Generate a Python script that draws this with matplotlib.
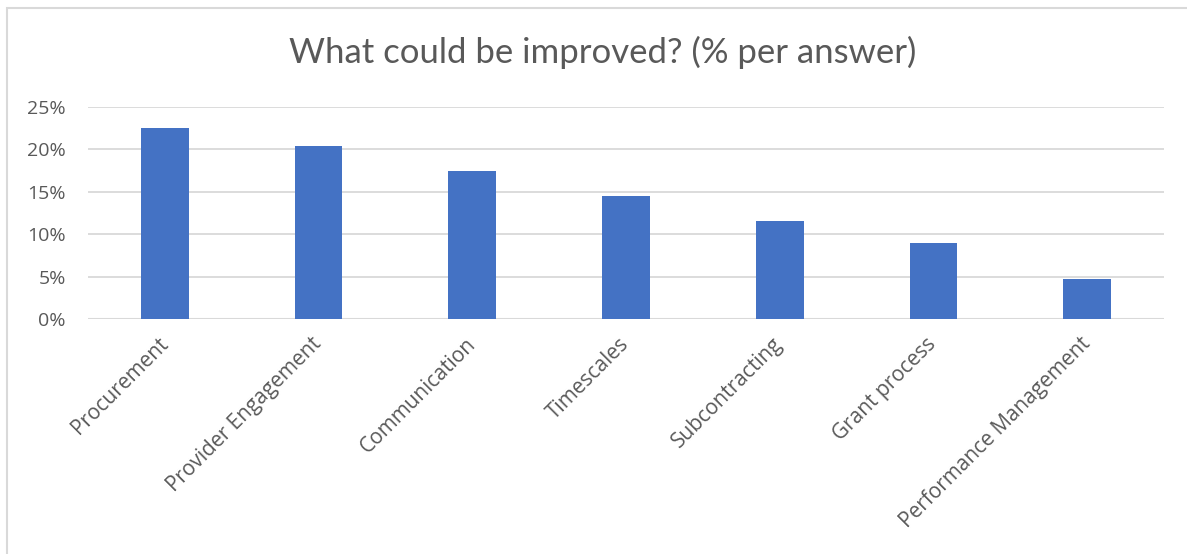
import matplotlib.pyplot as plt
from matplotlib.patches import Rectangle
from matplotlib.ticker import PercentFormatter, MultipleLocator

categories = ["Procurement", "Provider Engagement", "Communication", "Timescales",
              "Subcontracting", "Grant process", "Performance Management"]
values = [0.2256, 0.2039, 0.1744, 0.1449, 0.1150, 0.0894, 0.0469]
title = "What could be improved? (% per answer)"

text_color = "#595959"
grid_color = "#D9D9D9"
bar_color = "#4472C4"

plt.rcParams['font.family'] = ['Open Sans', 'DejaVu Sans']

fig = plt.figure(figsize=(11.87, 5.54), dpi=100)
ax = fig.add_axes([88 / 1187, 1 - 319 / 554, (1164 - 88) / 1187, (319 - 107) / 554])

x = range(len(categories))
ax.bar(x, values, width=0.31, color=bar_color, zorder=3)

ax.set_xlim(-0.5, len(categories) - 0.5)
ax.set_ylim(0, 0.25)
ax.yaxis.set_major_locator(MultipleLocator(0.05))
ax.yaxis.set_major_formatter(PercentFormatter(1.0, decimals=0))
ax.grid(axis='y', color=grid_color, linewidth=1.3, zorder=0)
for s in ax.spines.values():
    s.set_visible(False)
ax.axhline(0, color=grid_color, linewidth=1.5, zorder=2)

ax.set_xticks(list(x))
ax.set_xticklabels(categories, rotation=45, ha='right', va='center',
                   rotation_mode='anchor', fontsize=15, color=text_color)
ax.tick_params(axis='x', length=0, pad=16)
ax.tick_params(axis='y', length=0, pad=16, labelsize=14, labelcolor=text_color)

fig.text(0.508, 1 - 52 / 554, title, ha='center', va='center', fontsize=25,
         color=text_color, family=['Lato', 'DejaVu Sans'])

# chart border
fig.patches.append(Rectangle((7 / 1187, -0.05), 1.2, 1.05 - 8 / 554,
                             transform=fig.transFigure, fill=False,
                             edgecolor=grid_color, linewidth=1.5))

fig.savefig("out.png", dpi=100)
